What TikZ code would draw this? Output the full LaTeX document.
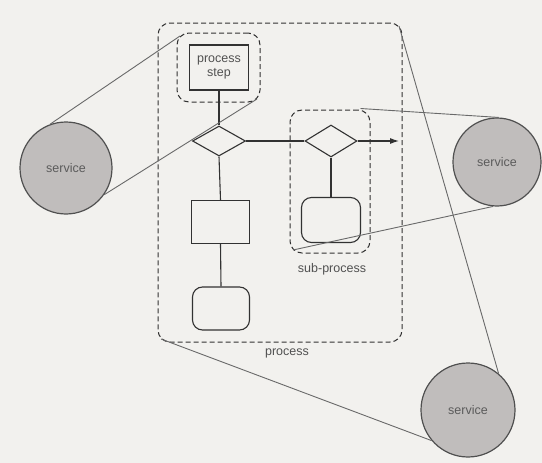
\documentclass[tikz,border=0pt]{standalone}
\usepackage{fontspec}
\setmainfont{Liberation Sans}
\usetikzlibrary{shapes.geometric,arrows.meta,calc}
\definecolor{paper}{RGB}{242,241,238}
\definecolor{ink}{RGB}{50,50,50}
\definecolor{svcfill}{RGB}{192,189,188}
\definecolor{svcline}{RGB}{80,80,80}
\definecolor{linkc}{RGB}{105,105,105}
\begin{document}
\begin{tikzpicture}[x=1pt,y=-1pt, font=\fontsize{12.5}{13.5}\selectfont,
 flow/.style={draw=ink,line width=1.1pt},
 sbox/.style={flow, rectangle, inner sep=0},
 rbox/.style={flow, rectangle, inner sep=0, rounded corners=10pt},
 dia/.style={flow, diamond, inner sep=0},
 grp/.style={draw=ink, line width=1pt, dash pattern=on 5pt off 3pt, rectangle, rounded corners=12pt, inner sep=0},
 svc/.style={circle, draw=svcline, line width=1.2pt, fill=svcfill, inner sep=0, text=ink!80},
 link/.style={draw=linkc, line width=0.9pt},
 lbl/.style={text=ink!85}]
\fill[paper] (0,0) rectangle (542,463);
\useasboundingbox (0,0) rectangle (542,463);
% groups
\node[grp, minimum width=244, minimum height=319] (proc) at (280,182.5) {};
\node[grp, minimum width=83, minimum height=69] (psg) at (218.5,67.5) {};
\node[grp, minimum width=80, minimum height=143] (subg) at (330,181.5) {};
% flow nodes
\node[sbox, minimum width=59, minimum height=45, align=center, line width=1.5pt, text=ink!85] (ps) at (219,67.5) {process\\step};
\node[dia, minimum width=53, minimum height=30] (d1) at (219,141) {};
\node[dia, minimum width=52, minimum height=32] (d2) at (331,141) {};
\coordinate (tip) at (399,141);
\node[sbox, minimum width=58, minimum height=43] (r1) at (220.5,222) {};
\node[rbox, minimum width=57, minimum height=43] (rr1) at (221,308.5) {};
\node[rbox, minimum width=59, minimum height=45] (rr2) at (331,220) {};
% flow connectors
\draw[flow] (ps) -- (d1);
\draw[flow] (d1) -- (d2);
\draw[flow,-{Latex[length=9pt,width=6pt]}] (d2.east) -- (tip);
\draw[flow] (d1.south) -- (r1.north);
\draw[flow] (r1.south) -- (rr1.north);
\draw[flow] (d2.south) -- (rr2.north);
% labels
\node[lbl] (proclbl) at (287,353) {process};
\node[lbl] (sublbl) at (332,269) {sub-process};
% services
\node[svc, minimum size=92] (L) at (66,168) {service};
\node[svc, minimum size=88] (R) at (497,162) {service};
\node[svc, minimum size=94] (B) at (468,410) {service};
% links
\draw[link] (L.110) -- ($(psg.north west)+(3.5,3.5)$);
\draw[link] (L.-35) -- ($(psg.south east)+(-3.5,-3.5)$);
\draw[link] ($(subg.north east)+(-10,-1)$) -- (R.88);
\draw[link] ($(subg.south west)+(3.5,-3.5)$) -- (R.-95);
\draw[link] ($(proc.north east)+(-3.5,3.5)$) -- (B.50);
\draw[link] ($(proc.south west)+(3.5,-3.5)$) -- (B.220);
\end{tikzpicture}
\end{document}
